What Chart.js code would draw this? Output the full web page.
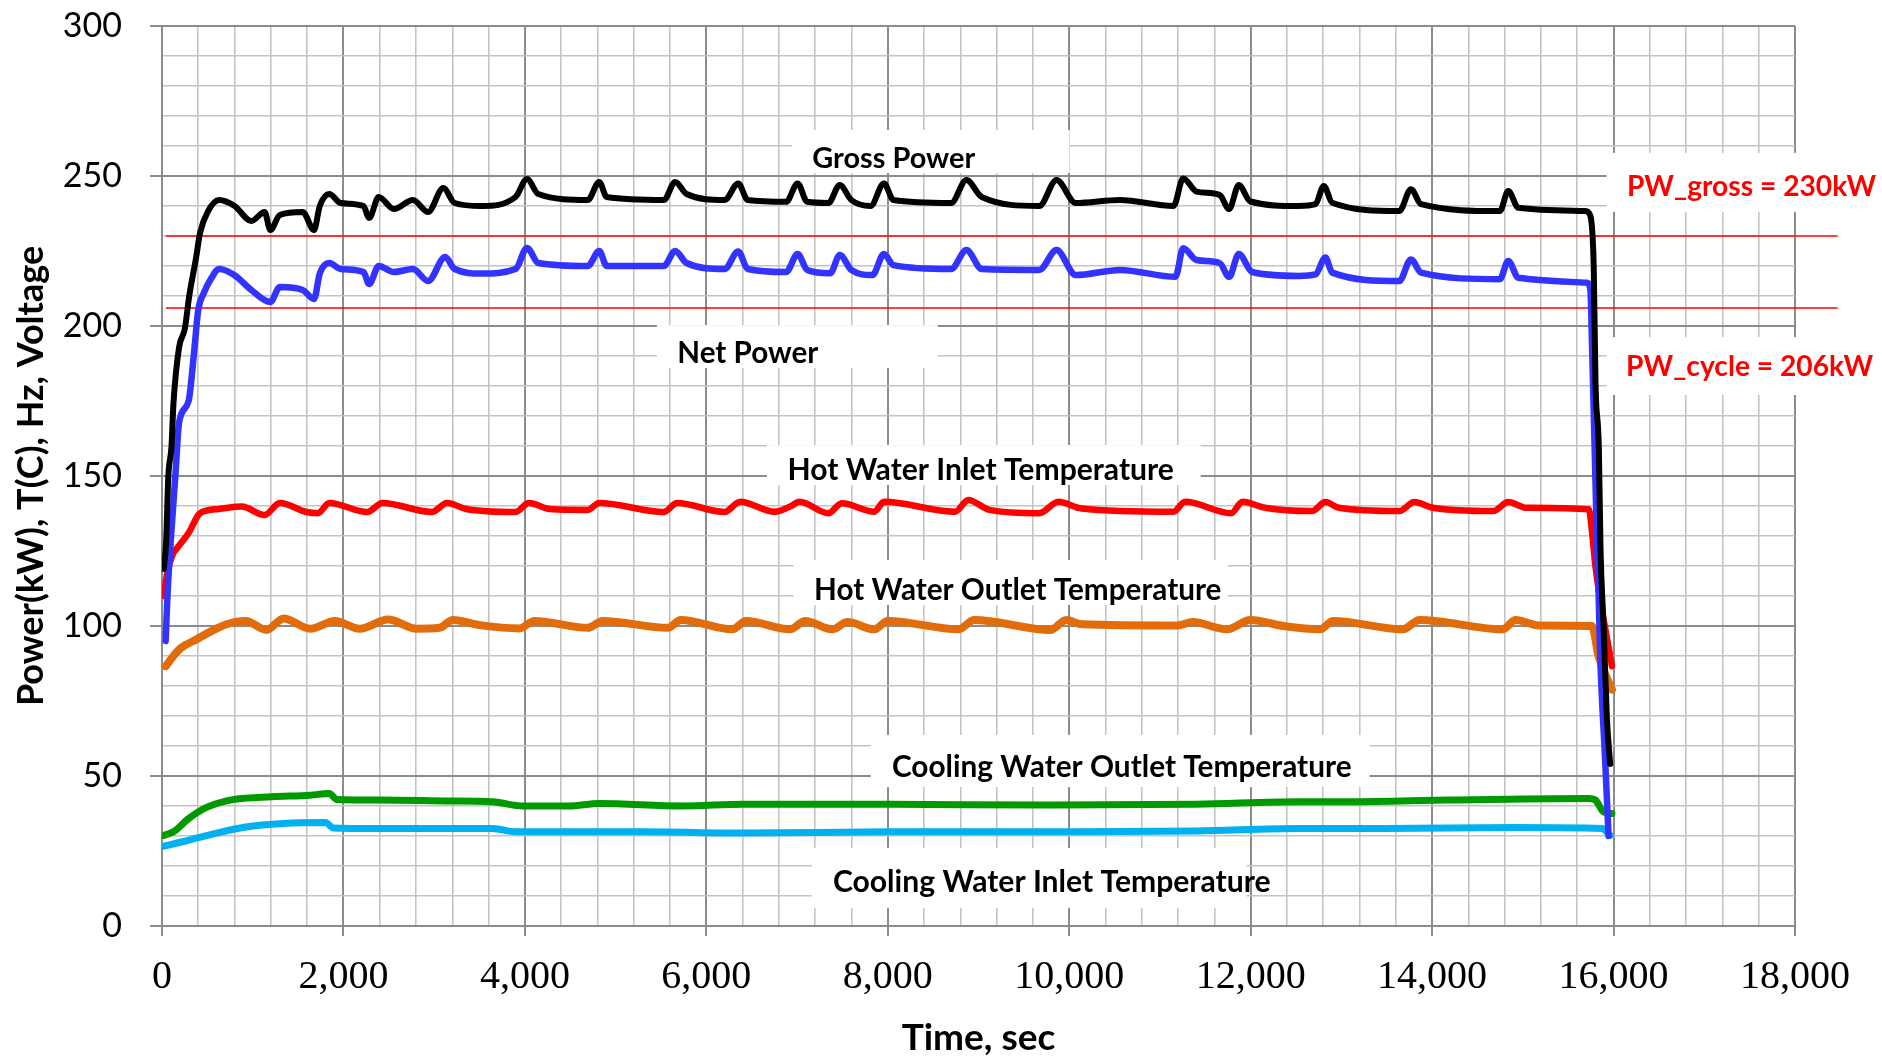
<!DOCTYPE html>
<html>
<head>
<meta charset="utf-8">
<title>Power and temperatures vs time</title>
<script src="https://cdn.jsdelivr.net/npm/chart.js@4.4.0/dist/chart.umd.min.js"></script>
<style>
  html, body { margin: 0; padding: 0; background: #fff; }
  #chart { display: block; }
</style>
</head>
<body>
<canvas id="chart" width="1882" height="1057"></canvas>
<script>
// Data (time in sec)
const grossTime = [20, 45, 70, 105, 126, 189, 251, 300, 377, 419, 503, 629, 800, 985, 1131, 1194, 1299, 1550, 1676, 1739, 1844, 1969, 2221, 2284, 2388, 2556, 2766, 2933, 3101, 3226, 3520, 3897, 4023, 4148, 4693, 4819, 4902, 5531, 5657, 5782, 6201, 6351, 6457, 6880, 7006, 7112, 7345, 7471, 7598, 7810, 7958, 8063, 8698, 8867, 9036, 9670, 9860, 10072, 10558, 11150, 11256, 11404, 11657, 11763, 11869, 11996, 12529, 12714, 12806, 12898, 13638, 13767, 13878, 14747, 14839, 14950, 15690, 15745, 15782, 15801, 15838, 15856, 15890, 15927, 15963];
const grossPower = [119, 128, 150, 160, 174, 193, 199, 210, 223, 231, 238, 242, 240, 235, 238, 232, 237, 238, 232, 240, 244, 241, 240, 236, 243, 239, 242, 238, 246, 241, 240, 243, 249, 244, 242, 248, 243, 242, 248, 244, 242, 247.5, 242, 241.4, 247.5, 241.4, 241, 247, 242, 240, 247.5, 242, 241, 248.7, 243, 240, 248.7, 241, 242, 240, 249.2, 244.8, 243.7, 239, 247, 241.5, 240, 240.6, 246.7, 241.1, 238.3, 245.6, 240.6, 238.3, 245, 239.4, 238.3, 236.7, 219, 181, 159, 126, 100, 69, 54];

const netTime = [40, 60, 100, 147, 189, 293, 356, 398, 461, 545, 629, 796, 985, 1194, 1299, 1550, 1676, 1739, 1844, 1969, 2221, 2284, 2388, 2556, 2766, 2933, 3122, 3226, 3520, 3897, 4023, 4148, 4693, 4819, 4902, 5531, 5657, 5782, 6201, 6351, 6457, 6880, 7006, 7112, 7366, 7471, 7598, 7831, 7958, 8063, 8698, 8867, 9036, 9670, 9860, 10072, 10558, 11171, 11256, 11404, 11657, 11763, 11869, 12017, 12529, 12714, 12824, 12898, 13638, 13767, 13878, 14747, 14839, 14950, 15708, 15745, 15764, 15801, 15819, 15835, 15854, 15908, 15945];
const netPower = [95, 110, 130, 150, 168, 175, 192, 205, 211, 216, 219, 217, 212, 208, 213, 212, 209, 217.5, 221, 219, 218, 214, 220, 218, 219, 215, 223, 219, 217.5, 219, 226, 221, 220, 225, 220, 220, 225, 221, 219, 224.8, 219, 218, 224, 218.7, 217.6, 223.7, 218.7, 217, 224, 220.3, 219, 225.3, 219, 218.7, 225.3, 217, 218.7, 216.4, 225.9, 222, 221, 216.4, 224, 218, 216.7, 217.2, 222.8, 217.8, 215, 222.2, 217.8, 215.6, 221.7, 216.1, 214.4, 212, 192, 148, 126, 111, 89, 55, 30];

const hotInTime = [20, 60, 120, 168, 293, 419, 629, 880, 1131, 1299, 1592, 1718, 1844, 2263, 2430, 2975, 3143, 3352, 3897, 4044, 4274, 4693, 4819, 5531, 5678, 6201, 6372, 6753, 6922, 7028, 7345, 7493, 7852, 7958, 8740, 8888, 9120, 9670, 9881, 10135, 11150, 11277, 11784, 11911, 12159, 12676, 12824, 12972, 13638, 13804, 14007, 14673, 14839, 15043, 15727, 15764, 15800, 15982];
const hotInTemp = [110, 118, 124, 126, 131, 137.6, 139, 139.8, 137, 141, 138, 137.6, 141, 138, 141, 138, 141, 139, 138, 141, 139, 138.7, 141, 138, 141, 138, 141.4, 138.1, 139.8, 141.4, 137.6, 140.9, 138.1, 141.4, 138.1, 142, 138.7, 137.6, 141.4, 139.2, 138.1, 141.4, 137.6, 141.4, 139.4, 138.3, 141.3, 139.4, 138.3, 141.3, 139.4, 138.3, 141.3, 139.4, 138.9, 131, 120, 86.6];

const hotOutTime = [42, 126, 210, 377, 545, 712, 922, 1152, 1341, 1634, 1906, 2179, 2493, 2807, 3059, 3205, 3520, 3939, 4106, 4693, 4861, 5573, 5719, 6288, 6436, 6922, 7091, 7387, 7556, 7852, 8000, 8782, 8951, 9797, 9966, 10135, 11192, 11361, 11742, 11996, 12362, 12764, 12910, 13678, 13861, 14775, 14921, 15177, 15762, 15835, 15982];
const hotOutTemp = [86.6, 90, 92.7, 95.5, 98.3, 100.6, 101.7, 98.7, 102.5, 99.1, 101.7, 99.1, 102.2, 99.1, 99.4, 102, 100.2, 99.2, 101.7, 99.4, 101.7, 99.4, 102, 98.9, 101.7, 98.9, 101.7, 98.9, 101.3, 98.9, 101.7, 98.9, 102, 98.7, 102, 100.6, 100.2, 101.3, 98.9, 102, 100, 98.9, 101.7, 98.9, 102, 98.9, 102, 100.2, 100, 90, 78.8];

const coolOutTime = [21, 126, 293, 503, 796, 1215, 1634, 1844, 1927, 2388, 3143, 3645, 3980, 4483, 4819, 5740, 6411, 8021, 9712, 11404, 12537, 13093, 14190, 15726, 15799, 15890, 15982];
const coolOutTemp = [30.2, 31.4, 35.8, 39.7, 42.2, 43.1, 43.6, 44.2, 42.2, 42, 41.7, 41.4, 40, 40, 40.8, 40, 40.6, 40.6, 40.3, 40.6, 41.4, 41.4, 42, 42.5, 42, 38, 37.5];

const coolInTime = [21, 210, 503, 922, 1341, 1802, 1886, 2388, 3017, 3645, 3897, 4483, 5321, 6411, 8021, 10135, 11404, 12537, 13459, 14921, 15872, 15963];
const coolInTemp = [26.6, 28, 30.2, 33, 34.2, 34.5, 32.7, 32.5, 32.5, 32.5, 31.4, 31.4, 31.4, 31, 31.4, 31.4, 31.7, 32.5, 32.5, 32.8, 32.5, 30.2];

// Reference power levels
const pwGross = 230;
const pwCycle = 206;
const refSpan = [44, 18470];

// Axis ticks
const xMax = 18000, xMinorStep = 400, xLabelStep = 2000;
const yMax = 300, yMinorStep = 10, yLabelStep = 50;

const FONT = 'Lato, "Open Sans", sans-serif';
const MAJOR = '#8c8c8c';
const MINOR = '#c4c4c4';

// Text boxes on the plot, placed in data units
const notes = [
    { text: 'Gross Power', box: [6942, 10005, 251, 265.3], at: [8066, 255.7], width: 163, color: '#000' },
    { text: 'Net Power', box: [5455, 8551, 186, 200.3], at: [6457, 191], width: 141, color: '#000' },
    { text: 'Hot Water Inlet Temperature', box: [6667, 11449, 147, 160.3], at: [9025, 152], width: 386, color: '#000' },
    { text: 'Hot Water Outlet Temperature', box: [6964, 11747, 107, 122], at: [9433, 111.7], width: 407, color: '#000' },
    { text: 'Cooling Water Outlet Temperature', box: [7813, 13311, 46.3, 63.7], at: [10579, 53], width: 460, color: '#000' },
    { text: 'Cooling Water Inlet Temperature', box: [7163, 11956, 6, 26], at: [9807, 14.7], width: 438, color: '#000' },
    { text: 'PW_gross = 230kW', box: [15923, 19000, 238, 257.7], at: [17521, 246.3], width: 249, color: '#ff0000' },
    { text: 'PW_cycle = 206kW', box: [15923, 19000, 177, 196.3], at: [17499, 186.3], width: 247, color: '#ff0000' }
];

const pairs = (xs, ys) => xs.map((x, i) => ({ x: x, y: ys[i] }));

function series(label, xs, ys, color, width) {
    return {
        label: label,
        data: pairs(xs, ys),
        borderColor: color,
        backgroundColor: color,
        borderWidth: width,
        borderJoinStyle: 'round',
        borderCapStyle: 'round',
        cubicInterpolationMode: 'monotone',
        pointRadius: 0,
        fill: false
    };
}

function refLine(label, level) {
    return {
        label: label,
        data: refSpan.map(x => ({ x: x, y: level })),
        borderColor: '#ff0000',
        borderWidth: 1.6,
        pointRadius: 0,
        fill: false,
        clip: false
    };
}

const notesPlugin = {
    id: 'notes',
    beforeDatasetsDraw(chart) {
        const { ctx, scales: { x, y } } = chart;
        ctx.save();
        ctx.fillStyle = '#ffffff';
        notes.forEach(n => {
            const x0 = x.getPixelForValue(n.box[0]);
            const x1 = x.getPixelForValue(n.box[1]);
            const y0 = y.getPixelForValue(n.box[3]);
            const y1 = y.getPixelForValue(n.box[2]);
            ctx.fillRect(x0, y0, x1 - x0, y1 - y0);
        });
        ctx.restore();
    },
    afterDatasetsDraw(chart) {
        const { ctx, scales: { x, y } } = chart;
        ctx.save();
        ctx.textAlign = 'center';
        ctx.textBaseline = 'middle';
        notes.forEach(n => {
            // fit the font size to the width the label has on the picture
            ctx.font = 'bold 30px ' + FONT;
            const size = 30 * n.width / ctx.measureText(n.text).width;
            ctx.font = 'bold ' + size.toFixed(1) + 'px ' + FONT;
            ctx.fillStyle = n.color;
            ctx.fillText(n.text, x.getPixelForValue(n.at[0]), y.getPixelForValue(n.at[1]));
        });
        ctx.restore();
    }
};

new Chart(document.getElementById('chart'), {
    type: 'line',
    data: {
        datasets: [
            series('Gross Power', grossTime, grossPower, '#000000', 6),
            series('Net Power', netTime, netPower, '#3333ff', 6.5),
            series('Hot Water Inlet Temperature', hotInTime, hotInTemp, '#ff0000', 6.5),
            series('Hot Water Outlet Temperature', hotOutTime, hotOutTemp, '#e36c0a', 8),
            series('Cooling Water Outlet Temperature', coolOutTime, coolOutTemp, '#009a00', 7),
            series('Cooling Water Inlet Temperature', coolInTime, coolInTemp, '#00b0f0', 7),
            refLine('PW_gross', pwGross),
            refLine('PW_cycle', pwCycle)
        ]
    },
    options: {
        responsive: false,
        animation: false,
        devicePixelRatio: 1,
        layout: { padding: { top: 26, right: 87, left: 0, bottom: 0 } },
        plugins: {
            legend: { display: false },
            tooltip: { enabled: false }
        },
        scales: {
            x: {
                type: 'linear',
                min: 0,
                max: xMax,
                afterFit: scale => { scale.height = 131; },
                border: { display: true, color: MAJOR, width: 2 },
                grid: {
                    color: c => (c.tick && c.tick.value % xLabelStep === 0) ? MAJOR : MINOR,
                    lineWidth: c => (c.tick && c.tick.value % xLabelStep === 0) ? 2 : 1.6,
                    tickColor: c => (c.tick && c.tick.value % xLabelStep === 0) ? MAJOR : 'rgba(0,0,0,0)',
                    tickLength: 10,
                    tickWidth: 2
                },
                ticks: {
                    stepSize: xMinorStep,
                    maxTicksLimit: 100,
                    autoSkip: false,
                    maxRotation: 0,
                    padding: 21,
                    color: '#000',
                    font: { family: '"Liberation Serif", serif', size: 40, lineHeight: 1 },
                    callback: v => v % xLabelStep === 0 ? v.toLocaleString('en-US') : ''
                },
                title: {
                    display: true,
                    text: 'Time, sec',
                    color: '#000',
                    font: { family: FONT, size: 37, weight: 'bold', lineHeight: 1 },
                    padding: { top: 0, bottom: 0 }
                }
            },
            y: {
                min: 0,
                max: yMax,
                afterFit: scale => {
                    scale.width = 162;
                    // the label padding should not push the plot area down
                    scale.paddingTop = 0;
                    scale.paddingBottom = 0;
                },
                border: { display: true, color: MAJOR, width: 2 },
                grid: {
                    color: c => (c.tick && c.tick.value % yLabelStep === 0) ? MAJOR : MINOR,
                    lineWidth: c => (c.tick && c.tick.value % yLabelStep === 0) ? 2 : 1.6,
                    tickColor: c => (c.tick && c.tick.value % yLabelStep === 0) ? MAJOR : 'rgba(0,0,0,0)',
                    tickLength: 12,
                    tickWidth: 2
                },
                ticks: {
                    stepSize: yMinorStep,
                    maxTicksLimit: 100,
                    autoSkip: false,
                    padding: 28,
                    color: '#000',
                    font: { family: FONT, size: 34, lineHeight: 1 },
                    callback: v => v % yLabelStep === 0 ? String(v) : ''
                },
                title: {
                    display: true,
                    text: 'Power(kW), T(C), Hz, Voltage',
                    color: '#000',
                    font: { family: FONT, size: 36, weight: 'bold', lineHeight: 1 },
                    padding: { top: 13, bottom: 0 }
                }
            }
        }
    },
    plugins: [notesPlugin]
});
</script>
</body>
</html>
